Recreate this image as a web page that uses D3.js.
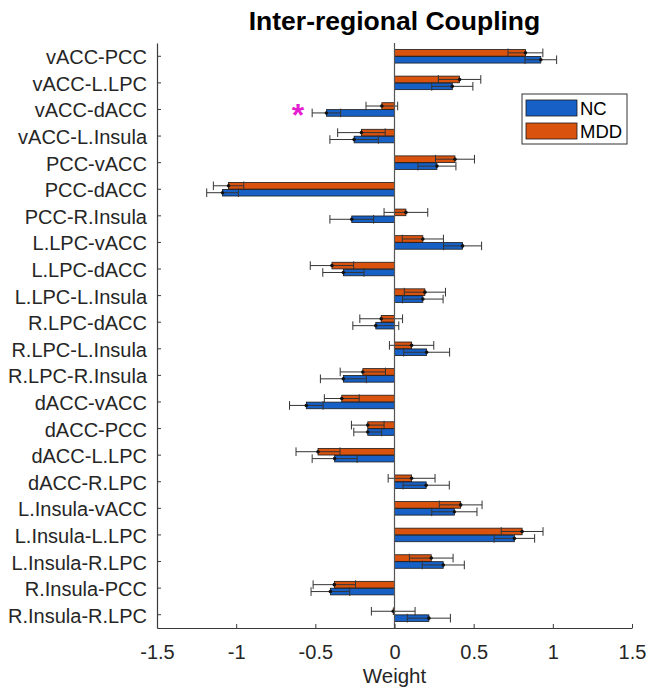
<!DOCTYPE html>
<html>
<head>
<meta charset="utf-8">
<script src="https://cdn.jsdelivr.net/npm/d3@7"></script>
<style>
  body { margin: 0; background: #fff; }
  text { font-family: "Liberation Sans", Arial, sans-serif; }
</style>
</head>
<body>
<svg id="chart"></svg>
<script>
// connections, top to bottom
var categories = ["vACC-PCC", "vACC-L.LPC", "vACC-dACC", "vACC-L.Insula", "PCC-vACC", "PCC-dACC",
    "PCC-R.Insula", "L.LPC-vACC", "L.LPC-dACC", "L.LPC-L.Insula", "R.LPC-dACC", "R.LPC-L.Insula",
    "R.LPC-R.Insula", "dACC-vACC", "dACC-PCC", "dACC-L.LPC", "dACC-R.LPC", "L.Insula-vACC",
    "L.Insula-L.LPC", "L.Insula-R.LPC", "R.Insula-PCC", "R.Insula-R.LPC"];

// group means and error sizes
var ncMean = [0.924, 0.365, -0.430, -0.255, 0.268, -1.086, -0.270, 0.430, -0.323, 0.179, -0.118,
    0.203, -0.323, -0.557, -0.169, -0.378, 0.200, 0.378, 0.757, 0.308, -0.405, 0.217];
var ncErr = [0.10, 0.13, 0.09, 0.153, 0.12, 0.10, 0.138, 0.12, 0.13, 0.128, 0.145,
    0.145, 0.145, 0.106, 0.088, 0.142, 0.146, 0.143, 0.128, 0.133, 0.122, 0.136];
var mddMean = [0.827, 0.411, -0.080, -0.209, 0.382, -1.048, 0.072, 0.179, -0.395, 0.192, -0.084,
    0.108, -0.200, -0.333, -0.169, -0.483, 0.108, 0.418, 0.806, 0.232, -0.380, -0.008];
var mddErr = [0.11, 0.134, 0.10, 0.15, 0.123, 0.096, 0.138, 0.13, 0.137, 0.13, 0.135,
    0.14, 0.143, 0.11, 0.103, 0.139, 0.148, 0.135, 0.132, 0.138, 0.134, 0.138];

var xTicks = [-1.5, -1, -0.5, 0, 0.5, 1, 1.5];
var groups = ["MDD", "NC"];       // MDD bar sits above NC inside each row
var legendOrder = ["NC", "MDD"];
var colours = { NC: "#1660c6", MDD: "#d9530f" };
var starRow = "vACC-dACC";
var starX = -0.61;

var svgWidth = 648;
var svgHeight = 691;
// plot box (note: "top" is a reserved window property, so prefixed names)
var plotLeft = 157, plotRight = 632, plotTop = 43, plotBottom = 628;
var axisColour = "#3a3a3a";
var fontSize = 20;

var svg = d3.select("#chart")
    .attr("width", svgWidth)
    .attr("height", svgHeight);

var x = d3.scaleLinear().domain([-1.5, 1.5]).range([plotLeft, plotRight]);
var y = d3.scaleBand().domain(categories).range([plotTop, plotBottom])
    .paddingInner(0.47).paddingOuter(0.235);
var ySub = d3.scaleBand().domain(groups).range([0, y.bandwidth()]).padding(0.04);

// rebuild rows from the arrays
var rows = [];
categories.forEach(function(c, i) {
    rows.push({ cat: c, group: "NC", mean: ncMean[i], err: ncErr[i] });
    rows.push({ cat: c, group: "MDD", mean: mddMean[i], err: mddErr[i] });
});

function barMid(d) {
    return y(d.cat) + ySub(d.group) + ySub.bandwidth() / 2;
}

// bars
svg.append("g")
    .selectAll(null)
    .data(rows)
    .enter()
    .append("rect")
    .attr("x", function(d) { return x(Math.min(0, d.mean)); })
    .attr("y", function(d) { return y(d.cat) + ySub(d.group); })
    .attr("width", function(d) { return Math.abs(x(d.mean) - x(0)); })
    .attr("height", ySub.bandwidth())
    .attr("fill", function(d) { return colours[d.group]; })
    .attr("stroke", "#1a1a1a")
    .attr("stroke-width", 0.8);

// error bars
var capHalf = ySub.bandwidth() / 2 + 1;
var eb = svg.append("g")
    .attr("stroke", "#333")
    .attr("stroke-width", 1)
    .selectAll(null)
    .data(rows)
    .enter()
    .append("g");

eb.append("line")
    .attr("x1", function(d) { return x(d.mean - d.err); })
    .attr("x2", function(d) { return x(d.mean + d.err); })
    .attr("y1", barMid)
    .attr("y2", barMid);

[-1, 1].forEach(function(s) {
    eb.append("line")
        .attr("x1", function(d) { return x(d.mean + s * d.err); })
        .attr("x2", function(d) { return x(d.mean + s * d.err); })
        .attr("y1", function(d) { return barMid(d) - capHalf; })
        .attr("y2", function(d) { return barMid(d) + capHalf; });
});

svg.append("g")
    .selectAll(null)
    .data(rows)
    .enter()
    .append("circle")
    .attr("cx", function(d) { return x(d.mean); })
    .attr("cy", barMid)
    .attr("r", 1.8)
    .attr("fill", "#111");

// zero line
svg.append("line")
    .attr("x1", x(0)).attr("x2", x(0))
    .attr("y1", plotTop).attr("y2", plotBottom)
    .attr("stroke", "#555")
    .attr("stroke-width", 1.2);

// axes
var yAxis = svg.append("g")
    .attr("transform", "translate(" + plotLeft + ",0)")
    .call(d3.axisLeft(y).tickSize(-4).tickPadding(10).tickSizeOuter(0));
var xAxis = svg.append("g")
    .attr("transform", "translate(0," + plotBottom + ")")
    .call(d3.axisBottom(x).tickValues(xTicks).tickSize(-4).tickPadding(17)
        .tickSizeOuter(0));

[yAxis, xAxis].forEach(function(a) {
    a.select(".domain").attr("stroke", axisColour).attr("stroke-width", 1.2);
    a.selectAll(".tick line").attr("stroke", axisColour);
    a.selectAll(".tick text")
        .attr("fill", "#262626")
        .style("font-size", fontSize + "px")
        .style("font-family", "'Liberation Sans', Arial, sans-serif");
});
yAxis.selectAll(".tick text").attr("dy", "0.4em");
xAxis.selectAll(".tick text").text(function(d) { return String(d); });

// title and axis label
svg.append("text")
    .attr("x", (plotLeft + plotRight) / 2)
    .attr("y", 30)
    .attr("text-anchor", "middle")
    .style("font-size", "26.5px")
    .style("font-weight", "bold")
    .attr("fill", "#000")
    .text("Inter-regional Coupling");

svg.append("text")
    .attr("x", (plotLeft + plotRight) / 2)
    .attr("y", 683)
    .attr("text-anchor", "middle")
    .style("font-size", "20.5px")
    .attr("fill", "#262626")
    .text("Weight");

// significance marker
var starSize = 32;
svg.append("text")
    .attr("x", x(starX))
    .attr("y", y(starRow) + ySub("NC") + ySub.bandwidth() / 2 + starSize * 0.42)
    .attr("text-anchor", "middle")
    .style("font-size", starSize + "px")
    .style("font-weight", "bold")
    .attr("fill", "#e61ed2")
    .text("*");

// legend
var legend = svg.append("g").attr("transform", "translate(522,94)");
legend.append("rect")
    .attr("width", 105).attr("height", 50)
    .attr("fill", "#fff")
    .attr("stroke", "#333")
    .attr("stroke-width", 1);
legendOrder.forEach(function(g, i) {
    legend.append("rect")
        .attr("x", 4).attr("y", 6 + i * 23)
        .attr("width", 51).attr("height", 16)
        .attr("fill", colours[g])
        .attr("stroke", "#1a1a1a")
        .attr("stroke-width", 0.8);
    legend.append("text")
        .attr("x", 58).attr("y", 21 + i * 23)
        .style("font-size", "18.5px")
        .attr("fill", "#000")
        .text(g);
});
</script>
</body>
</html>
